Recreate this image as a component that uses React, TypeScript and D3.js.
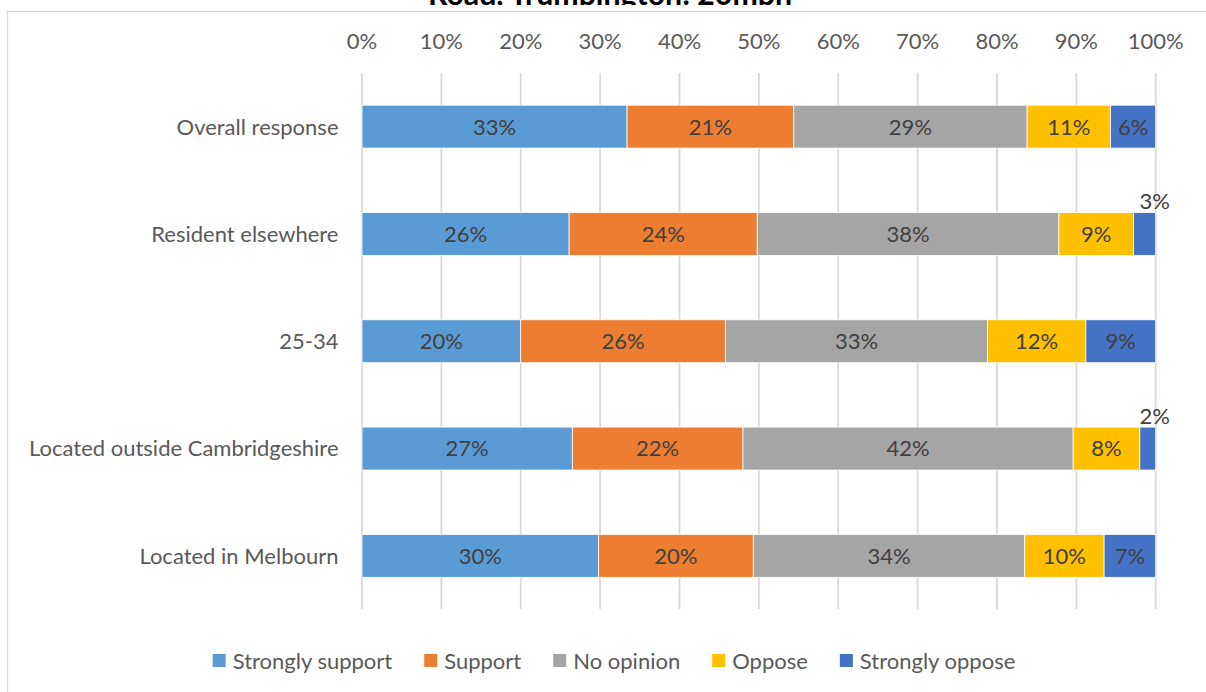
import React, { useEffect, useRef } from "react";
import * as d3 from "d3";

const TITLE = "Road, Trumpington: 20mph";
const categories = [
  "Overall response",
  "Resident elsewhere",
  "25-34",
  "Located outside Cambridgeshire",
  "Located in Melbourn",
];
const seriesNames = ["Strongly support", "Support", "No opinion", "Oppose", "Strongly oppose"];
const stronglySupport = [33.4, 26.1, 20.0, 26.5, 29.8];
const support = [21.0, 23.7, 25.8, 21.5, 19.5];
const noOpinion = [29.4, 38.0, 33.0, 41.6, 34.2];
const oppose = [10.5, 9.4, 12.4, 8.4, 10.0];
const stronglyOppose = [5.7, 2.8, 8.8, 2.0, 6.5];
const xTicks = [0, 10, 20, 30, 40, 50, 60, 70, 80, 90, 100];
const seriesColors = ["#5B9BD5", "#ED7D31", "#A5A5A5", "#FFC000", "#4472C4"];

const W = 1206;
const H = 692;
const FONT = "Lato, Carlito, 'Liberation Sans', sans-serif";
const FS = 22;

export default function App() {
  const ref = useRef<SVGSVGElement | null>(null);

  useEffect(() => {
    const svg = d3.select(ref.current);
    svg.selectAll("*").remove();

    const seriesValues = [stronglySupport, support, noOpinion, oppose, stronglyOppose];
    const rows = categories.map((c, i) => {
      const r: any = { category: c };
      seriesNames.forEach((s, j) => (r[s] = seriesValues[j][i]));
      return r;
    });
    const stacked = d3.stack<any>().keys(seriesNames)(rows);

    const x = d3.scaleLinear().domain([0, 100]).range([362, 1155.7]);
    const y = d3
      .scaleBand<string>()
      .domain(categories)
      .range([73, 609.5])
      .paddingInner(0.6)
      .paddingOuter(0.3);

    // clip for the cut-off title
    svg
      .append("defs")
      .append("clipPath")
      .attr("id", "titleClip")
      .append("rect")
      .attr("x", 0)
      .attr("y", 0)
      .attr("width", W)
      .attr("height", 5);

    // chart border
    svg
      .append("rect")
      .attr("x", 7.5)
      .attr("y", 11.5)
      .attr("width", 1400)
      .attr("height", 900)
      .attr("fill", "#fff")
      .attr("stroke", "#d9d9d9")
      .attr("stroke-width", 1.3);

    // title (cut off at top)
    svg
      .append("text")
      .attr("x", 610)
      .attr("y", 4.5)
      .attr("text-anchor", "middle")
      .attr("font-family", FONT)
      .attr("font-weight", "bold")
      .attr("font-size", 30)
      .attr("textLength", 364)
      .attr("lengthAdjust", "spacingAndGlyphs")
      .attr("clip-path", "url(#titleClip)")
      .attr("fill", "#000")
      .text(TITLE);

    // gridlines
    svg
      .append("g")
      .selectAll("line")
      .data(xTicks)
      .join("line")
      .attr("x1", (d) => x(d))
      .attr("x2", (d) => x(d))
      .attr("y1", 73)
      .attr("y2", 609)
      .attr("stroke", "#d9d9d9")
      .attr("stroke-width", 1.8);

    // tick labels
    svg
      .append("g")
      .selectAll("text")
      .data(xTicks)
      .join("text")
      .attr("x", (d) => x(d))
      .attr("y", 41.5 + FS * 0.36)
      .attr("text-anchor", "middle")
      .attr("font-family", FONT)
      .attr("font-size", FS)
      .attr("fill", "#595959")
      .text((d) => d + "%");

    // category labels
    svg
      .append("g")
      .selectAll("text")
      .data(categories)
      .join("text")
      .attr("x", 338.5)
      .attr("y", (d) => (y(d) as number) + y.bandwidth() / 2 + FS * 0.36)
      .attr("text-anchor", "end")
      .attr("font-family", FONT)
      .attr("font-size", FS)
      .attr("fill", "#595959")
      .text((d) => d);

    // bars
    const layers = svg
      .append("g")
      .selectAll("g")
      .data(stacked)
      .join("g")
      .attr("fill", (_d, i) => seriesColors[i]);

    layers
      .selectAll("rect")
      .data((d) => d)
      .join("rect")
      .attr("x", (d) => x(d[0]))
      .attr("y", (d: any) => y(d.data.category) as number)
      .attr("width", (d) => x(d[1]) - x(d[0]))
      .attr("height", y.bandwidth())
      .attr("stroke", "#fff")
      .attr("stroke-width", 0.8);

    // data labels
    const labelG = svg.append("g");
    stacked.forEach((layer) => {
      layer.forEach((d: any) => {
        const v = d.data[layer.key] as number;
        const top = y(d.data.category) as number;
        const inside = v >= 4;
        labelG
          .append("text")
          .attr("x", inside ? (x(d[0]) + x(d[1])) / 2 : x(d[1]) - 1)
          .attr("y", inside ? top + y.bandwidth() / 2 + FS * 0.36 : top - 11 + FS * 0.36)
          .attr("text-anchor", "middle")
          .attr("font-family", FONT)
          .attr("font-size", FS)
          .attr("fill", "#404040")
          .text(Math.round(v) + "%");
      });
    });

    // legend
    const legend = svg.append("g");
    const items = seriesNames.map((name, i) => {
      const g = legend.append("g");
      g.append("rect")
        .attr("width", 13)
        .attr("height", 13)
        .attr("y", 654)
        .attr("fill", seriesColors[i]);
      const t = g
        .append("text")
        .attr("x", 20)
        .attr("y", 660.7 + FS * 0.36)
        .attr("font-family", FONT)
        .attr("font-size", FS)
        .attr("fill", "#595959")
        .text(name);
      const w = 20 + (t.node() as SVGTextElement).getComputedTextLength();
      return { g, w };
    });
    const gap = 32;
    const total = d3.sum(items, (d) => d.w) + gap * (items.length - 1);
    let cx = 614 - total / 2;
    items.forEach((it) => {
      it.g.attr("transform", `translate(${cx},0)`);
      cx += it.w + gap;
    });
  }, []);

  return (
    <svg
      ref={ref}
      width={W}
      height={H}
      style={{ position: "absolute", left: 0, top: 0, display: "block", background: "#fff" }}
    />
  );
}
